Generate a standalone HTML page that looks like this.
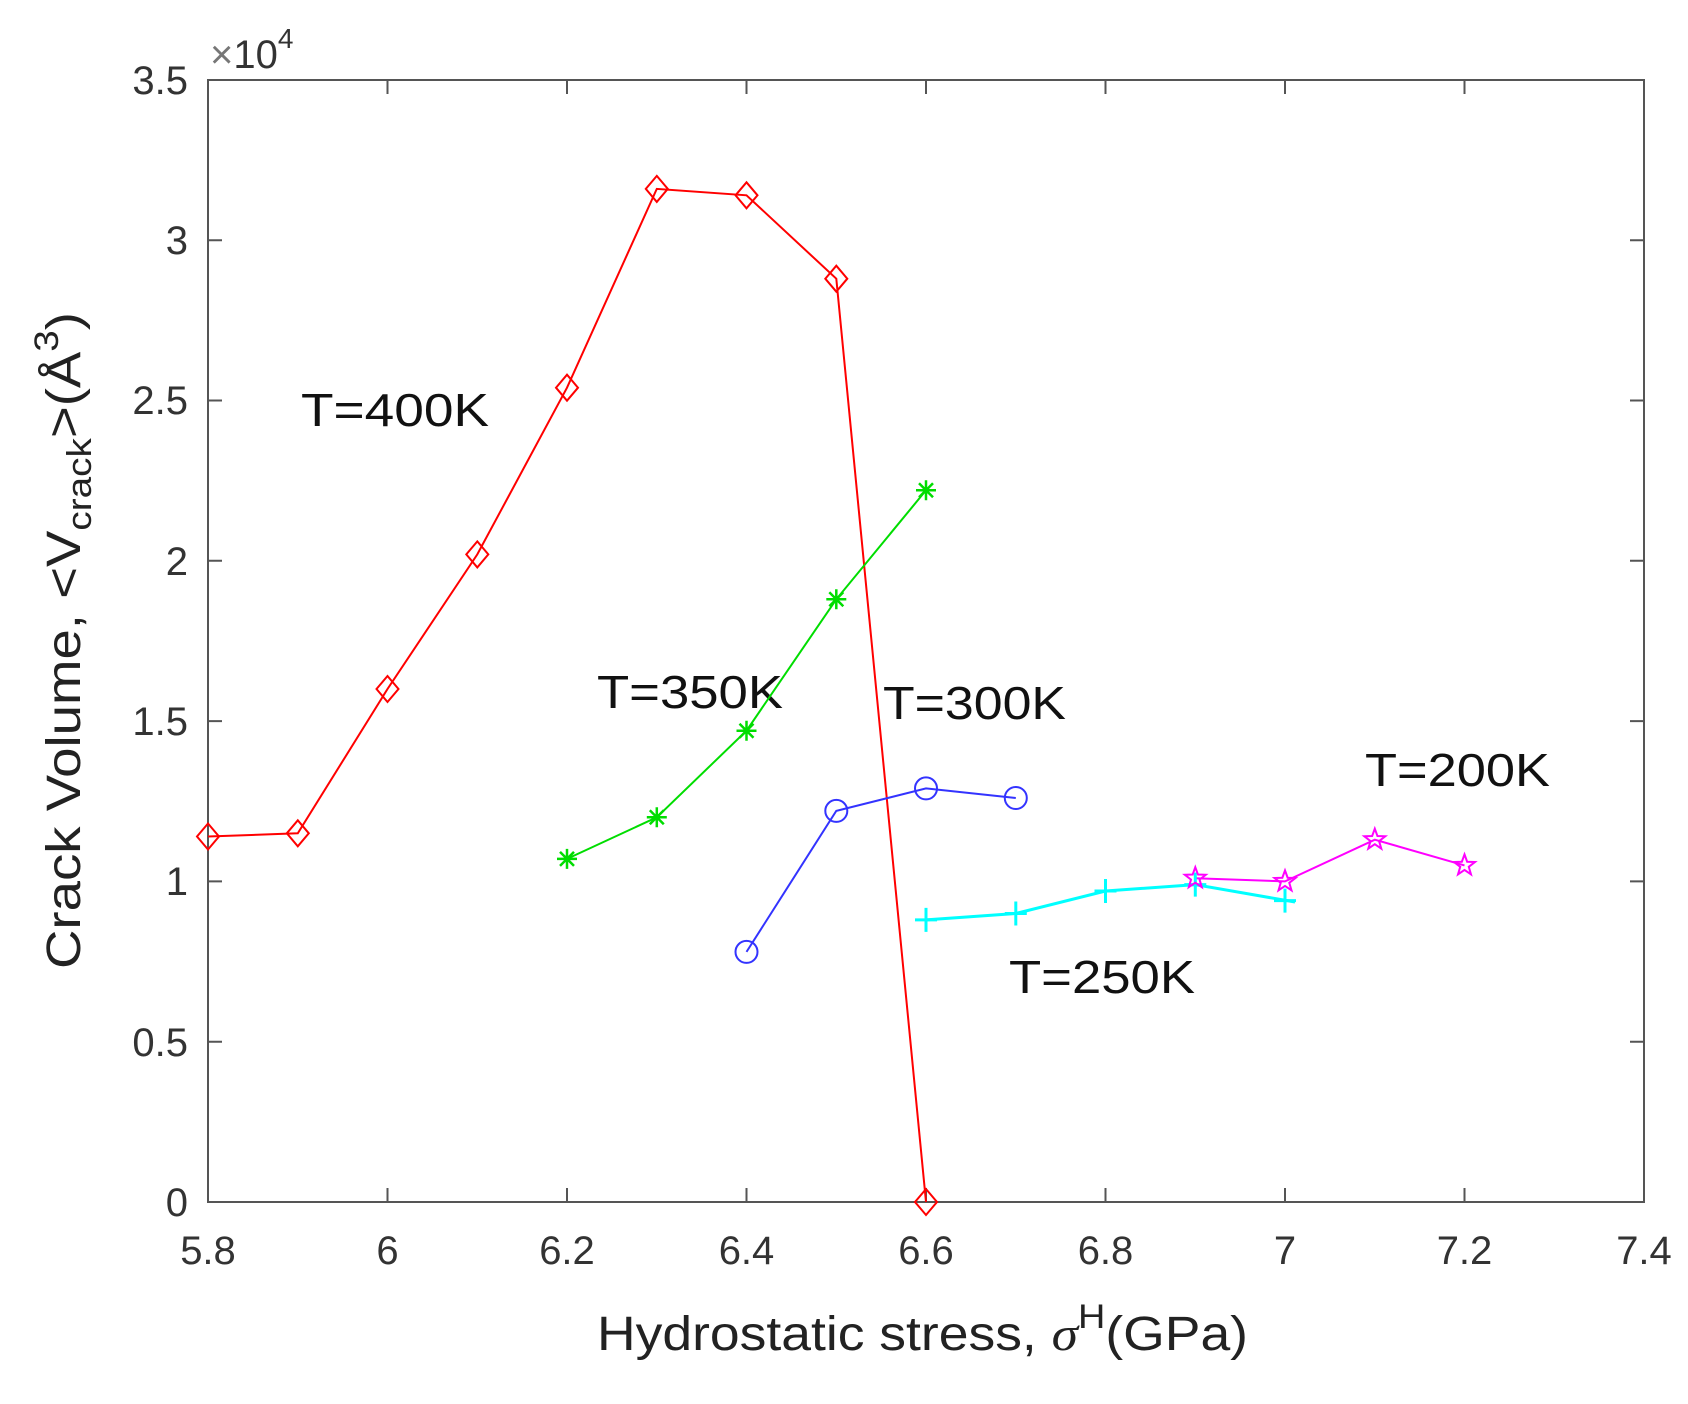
<!DOCTYPE html>
<html><head><style>body{margin:0;background:#fff}svg{display:block}</style></head>
<body>
<svg width="1688" height="1404" viewBox="0 0 1688 1404" xmlns="http://www.w3.org/2000/svg" font-family="Liberation Sans, sans-serif">
<defs>
<path id="dia" d="M0,-13 L11,0 L0,13 L-11,0 Z" fill="none" stroke="#f00" stroke-width="2"/>
<g id="ast" stroke="#0d0" stroke-width="2.5"><path d="M-10,0H10M0,-10V10M-7,-7L7,7M-7,7L7,-7"/></g>
<circle id="cir" r="11" fill="none" stroke="#33f" stroke-width="2"/>
<path id="plus" d="M-11,0H11M0,-12V12" stroke="#0ff" stroke-width="3"/>
<polygon id="star" points="0,-11 2.65,-3.64 10.46,-3.4 4.28,1.39 6.47,8.9 0,4.5 -6.47,8.9 -4.28,1.39 -10.46,-3.4 -2.65,-3.64" fill="none" stroke="#f0f" stroke-width="2"/>
</defs>
<rect x="208" y="80" width="1436" height="1122" fill="none" stroke="#555" stroke-width="2"/>
<g stroke="#555" stroke-width="2">
<path d="M387.5,1202v-14M567,1202v-14M746.5,1202v-14M926,1202v-14M1105.5,1202v-14M1285,1202v-14M1464.5,1202v-14"/>
<path d="M387.5,80v14M567,80v14M746.5,80v14M926,80v14M1105.5,80v14M1285,80v14M1464.5,80v14"/>
<path d="M208,1041.7h14M208,881.4h14M208,721.1h14M208,560.8h14M208,400.5h14M208,240.2h14"/>
<path d="M1644,1041.7h-14M1644,881.4h-14M1644,721.1h-14M1644,560.8h-14M1644,400.5h-14M1644,240.2h-14"/>
</g>
<g font-size="40" fill="#333" text-anchor="end">
<text x="188" y="1216">0</text><text x="188" y="1056">0.5</text><text x="188" y="895">1</text><text x="188" y="735">1.5</text><text x="188" y="575">2</text><text x="188" y="414">2.5</text><text x="188" y="254">3</text><text x="188" y="94">3.5</text>
</g>
<g font-size="40" fill="#333" text-anchor="middle">
<text x="208" y="1264">5.8</text><text x="387.5" y="1264">6</text><text x="567" y="1264">6.2</text><text x="746.5" y="1264">6.4</text><text x="926" y="1264">6.6</text><text x="1105.5" y="1264">6.8</text><text x="1285" y="1264">7</text><text x="1464.5" y="1264">7.2</text><text x="1644" y="1264">7.4</text>
</g>
<text x="210" y="68" font-size="40" fill="#333"><tspan fill="#777">×</tspan>10<tspan font-size="28" dy="-20">4</tspan></text>
<text x="597" y="1350" font-size="48" fill="#222" textLength="651" lengthAdjust="spacingAndGlyphs">Hydrostatic stress, <tspan font-family="Liberation Serif, serif" font-style="italic">σ</tspan><tspan font-size="34" dy="-22">H</tspan><tspan dy="22">(GPa)</tspan></text>
<text transform="translate(80,969) rotate(-90)" font-size="48" fill="#222" textLength="657" lengthAdjust="spacingAndGlyphs">Crack Volume, &lt;V<tspan font-size="34" dy="11">crack</tspan><tspan dy="-11">&gt;(Å</tspan><tspan font-size="34" dy="-22">3</tspan><tspan dy="22">)</tspan></text>
<g font-size="46" fill="#111">
<text x="301" y="426" textLength="188" lengthAdjust="spacingAndGlyphs">T=400K</text>
<text x="597" y="708" textLength="186" lengthAdjust="spacingAndGlyphs">T=350K</text>
<text x="883" y="719" textLength="183" lengthAdjust="spacingAndGlyphs">T=300K</text>
<text x="1365" y="786" textLength="185" lengthAdjust="spacingAndGlyphs">T=200K</text>
<text x="1009" y="993" textLength="186" lengthAdjust="spacingAndGlyphs">T=250K</text>
</g>
<polyline points="208,836.5 297.8,833.3 387.5,689 477.3,554.4 567,387.7 656.8,188.9 746.5,195.3 836.3,278.7 926,1202" fill="none" stroke="#f00" stroke-width="2"/>
<polyline points="567,858.9 656.8,817.3 746.5,730.7 836.3,599.3 926,490.3" fill="none" stroke="#0d0" stroke-width="2"/>
<polyline points="746.5,951.9 836.3,810.9 926,788.4 1015.8,798" fill="none" stroke="#33f" stroke-width="2"/>
<polyline points="926,919.9 1015.8,913.5 1105.5,891 1195.3,884.6 1295,902" fill="none" stroke="#0ff" stroke-width="3"/>
<polyline points="1195.3,878.2 1285,881.4 1374.8,839.7 1464.5,865.4" fill="none" stroke="#f0f" stroke-width="2"/>
<use href="#dia" x="208" y="836.5"/><use href="#dia" x="297.8" y="833.3"/><use href="#dia" x="387.5" y="689"/><use href="#dia" x="477.3" y="554.4"/><use href="#dia" x="567" y="387.7"/><use href="#dia" x="656.8" y="188.9"/><use href="#dia" x="746.5" y="195.3"/><use href="#dia" x="836.3" y="278.7"/><use href="#dia" x="926" y="1202"/>
<use href="#ast" x="567" y="858.9"/><use href="#ast" x="656.8" y="817.3"/><use href="#ast" x="746.5" y="730.7"/><use href="#ast" x="836.3" y="599.3"/><use href="#ast" x="926" y="490.3"/>
<use href="#cir" x="746.5" y="951.9"/><use href="#cir" x="836.3" y="810.9"/><use href="#cir" x="926" y="788.4"/><use href="#cir" x="1015.8" y="798"/>
<use href="#plus" x="926" y="919.9"/><use href="#plus" x="1015.8" y="913.5"/><use href="#plus" x="1105.5" y="891"/><use href="#plus" x="1195.3" y="884.6"/><use href="#plus" x="1285" y="900.6"/>
<use href="#star" x="1195.3" y="878.2"/><use href="#star" x="1285" y="881.4"/><use href="#star" x="1374.8" y="839.7"/><use href="#star" x="1464.5" y="865.4"/>
</svg>
</body></html>
